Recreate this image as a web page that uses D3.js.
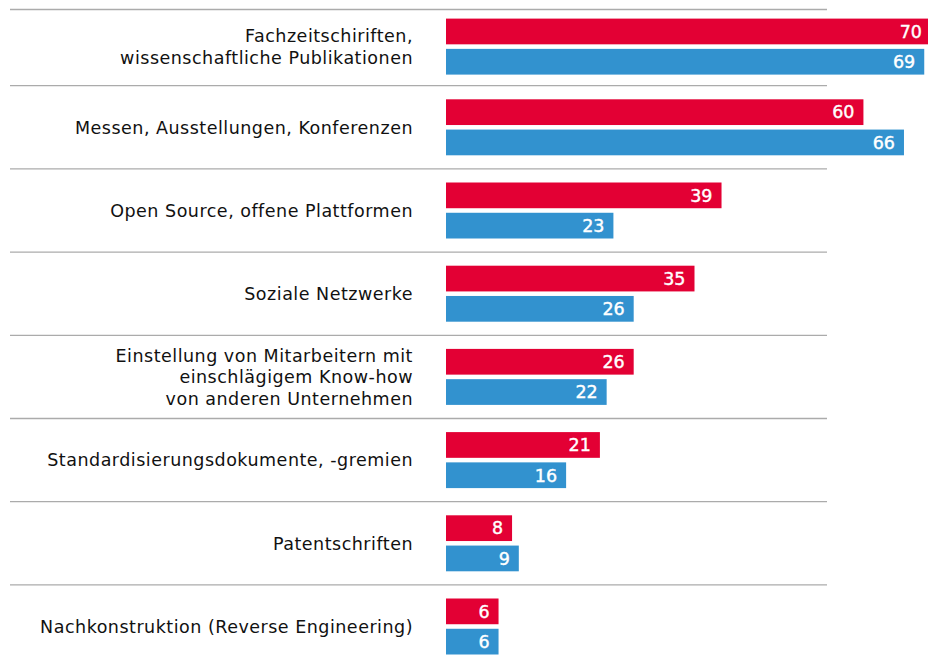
<!DOCTYPE html>
<html>
<head>
<meta charset="utf-8">
<script src="https://cdn.jsdelivr.net/npm/d3@7"></script>
<style>
    body { margin: 0; background: #fff; }
    svg { display: block; }
</style>
</head>
<body>
<div id="chart"></div>
<script>
const categories = [
    "Fachzeitschiriften,\nwissenschaftliche Publikationen",
    "Messen, Ausstellungen, Konferenzen",
    "Open Source, offene Plattformen",
    "Soziale Netzwerke",
    "Einstellung von Mitarbeitern mit\neinschlägigem Know-how\nvon anderen Unternehmen",
    "Standardisierungsdokumente, -gremien",
    "Patentschriften",
    "Nachkonstruktion (Reverse Engineering)"
];
const seriesA = [70, 60, 39, 35, 26, 21, 8, 6];
const seriesB = [69, 66, 23, 26, 22, 16, 9, 6];
const seriesNames = ["a", "b"];
const colors = ["#e30034", "#3292cf"];

const width = 928;
const height = 659;

const svg = d3.select("#chart")
    .append("svg")
    .attr("width", width)
    .attr("height", height);

const y = d3.scaleBand()
    .domain(categories)
    .range([2.5, 2.5 + 83.2 * 8]);

// bars begin a little left of the scale's zero
const barStart = 446;
const x = d3.scaleLinear()
    .domain([0, 70])
    .range([458, 931]);

const inner = d3.scaleBand()
    .domain(seriesNames)
    .range([-28, 28])
    .paddingInner(0.15);

// separators
const seps = [9.5].concat(categories.slice(1).map(c => y(c)));
svg.selectAll(".sep")
    .data(seps)
    .enter()
    .append("line")
    .attr("x1", 10)
    .attr("x2", 827)
    .attr("y1", d => d)
    .attr("y2", d => d)
    .attr("stroke", "#ababab")
    .attr("stroke-width", 1.3);

const rows = svg.selectAll(".row")
    .data(categories.map((c, i) => ({ cat: c, vals: [seriesA[i], seriesB[i]] })))
    .enter()
    .append("g")
    .attr("transform", (d, i) => `translate(0,${y(d.cat) + y.bandwidth() / 2 + (i === 0 ? 2.5 : 0)})`);

// category labels
rows.each(function (d) {
    const lines = d.cat.split("\n");
    const lh = 21.5;
    const t = d3.select(this).append("text")
        .attr("x", 413)
        .attr("text-anchor", "end")
        .attr("font-family", "'DejaVu Sans', sans-serif")
        .attr("font-size", 17.5)
        .attr("letter-spacing", 0.5)
        .attr("fill", "#111");
    lines.forEach((l, i) => {
        t.append("tspan")
            .attr("x", 413)
            .attr("y", (i - (lines.length - 1) / 2) * lh)
            .attr("dy", "0.36em")
            .text(l);
    });
});

rows.selectAll("rect")
    .data(d => d.vals.map((v, i) => ({ v, s: seriesNames[i], c: colors[i] })))
    .enter()
    .append("rect")
    .attr("x", barStart)
    .attr("y", d => inner(d.s))
    .attr("width", d => x(d.v) - barStart)
    .attr("height", inner.bandwidth())
    .attr("fill", d => d.c);

rows.selectAll(".val")
    .data(d => d.vals.map((v, i) => ({ v, s: seriesNames[i] })))
    .enter()
    .append("text")
    .attr("x", d => Math.min(x(d.v), 936) - 9)
    .attr("y", d => inner(d.s) + inner.bandwidth() / 2)
    .attr("dy", "0.36em")
    .attr("text-anchor", "end")
    .attr("font-family", "'DejaVu Sans', sans-serif")
    .attr("font-size", 17.5)
    .attr("fill", "#fff")
    .attr("stroke", "#fff")
    .attr("stroke-width", 0.4)
    .text(d => d.v);
</script>
</body>
</html>
